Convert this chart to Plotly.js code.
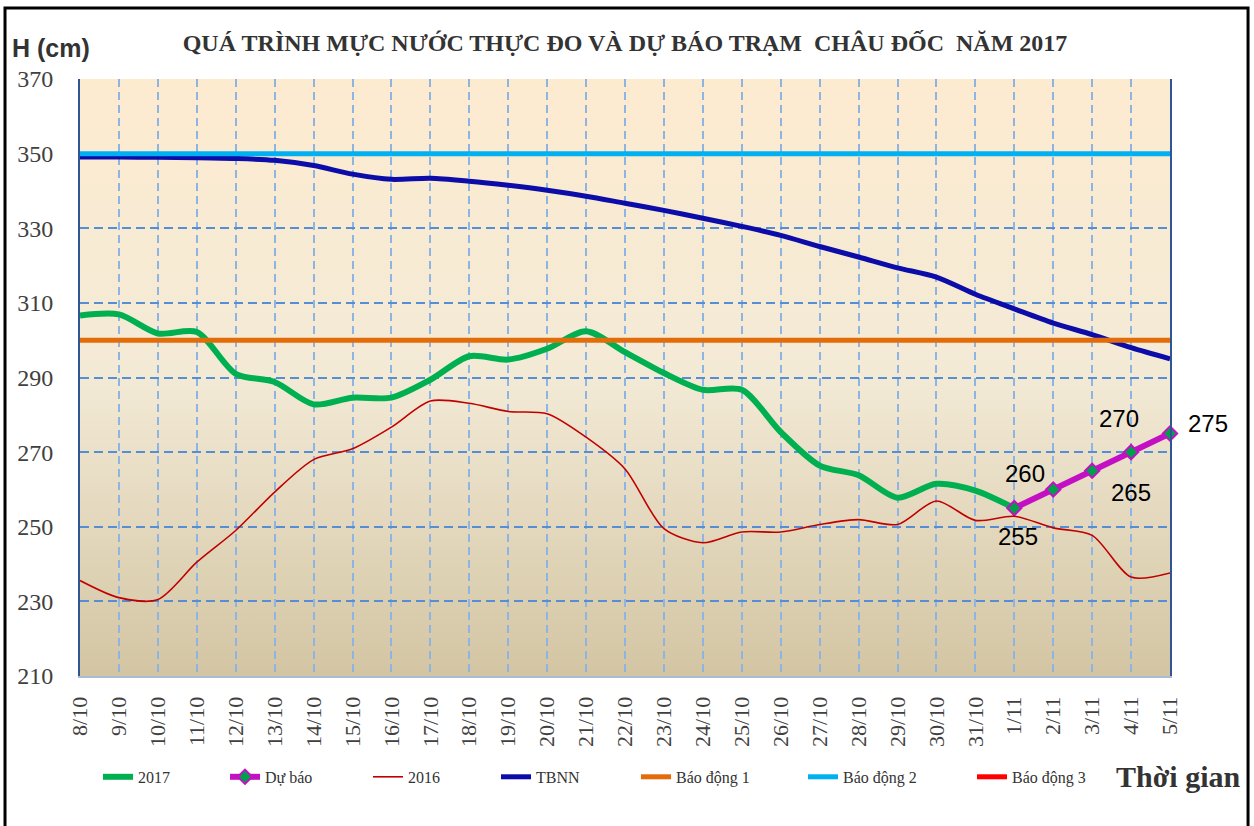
<!DOCTYPE html>
<html>
<head>
<meta charset="utf-8">
<script src="https://cdn.plot.ly/plotly-3.0.1.min.js"></script>
<style>
  body { margin: 0; background: #fff; }
  #chart { width: 1254px; height: 826px; }
</style>
</head>
<body>
<div id="chart"></div>
<script>
// ngày quan trắc
const dates = ['8/10','9/10','10/10','11/10','12/10','13/10','14/10','15/10','16/10','17/10',
  '18/10','19/10','20/10','21/10','22/10','23/10','24/10','25/10','26/10','27/10',
  '28/10','29/10','30/10','31/10','1/11','2/11','3/11','4/11','5/11']

// mực nước thực đo 2017 (đến 1/11)
const h2017 = [306.6, 306.9, 301.8, 302.2, 291.0, 288.8, 282.8, 284.6, 284.6, 289.4,
  295.7, 294.8, 297.7, 302.4, 296.8, 291.2, 286.7, 286.7, 275.4, 266.4,
  263.8, 257.8, 261.5, 259.7, 255]

// dự báo
const forecastDates = ['1/11','2/11','3/11','4/11','5/11']
const forecast = [255, 260, 265, 270, 275]

// cùng kỳ 2016
const h2016 = [235.6, 231.0, 230.5, 240.5, 249.0, 259.3, 268.0, 270.9, 276.7, 283.7,
  283.1, 280.9, 280.3, 274.0, 265.5, 249.5, 245.7, 248.6, 248.6, 250.6,
  251.9, 250.6, 256.9, 251.7, 252.8, 249.7, 247.7, 236.5, 237.6]

// trung bình nhiều năm
const tbnn = [349.1, 349.1, 349.0, 348.9, 348.7, 348.2, 346.8, 344.5, 343.1, 343.4,
  342.6, 341.5, 340.2, 338.6, 336.7, 334.8, 332.7, 330.5, 328.1, 325.1,
  322.3, 319.4, 316.9, 312.3, 308.4, 304.6, 301.5, 298.0, 295.0]

// báo động 1, 2, 3
const alarmNames = ['Báo động 1', 'Báo động 2', 'Báo động 3']
const alarmLevels = [300, 350, 400]
const alarmColors = ['#e36c0a', '#00b0f0', '#ff0000']

const yTicks = [210, 230, 250, 270, 290, 310, 330, 350, 370]

// label offsets for the forecast values
const labelShiftX = [4, -28, 39, -12, 38]
const labelShiftY = [-28, 16, -22, 34, 10]

const serif = 'Liberation Serif, Times New Roman, serif'
const sans = 'Liberation Sans, Arial, sans-serif'
const legendFont = {family: serif, size: 16, color: '#333'}

const traces = [
  {
    x: dates.slice(0, h2017.length), y: h2017, name: '2017', type: 'scatter', mode: 'lines',
    line: {color: '#00b050', width: 6, shape: 'spline', smoothing: 0.8},
    legendwidth: 82
  },
  {
    x: forecastDates, y: forecast, name: 'Dự báo', type: 'scatter', mode: 'lines+markers',
    line: {color: '#c410c4', width: 6},
    marker: {symbol: 'diamond', size: 11, color: '#00a04a', line: {color: '#c410c4', width: 2}},
    cliponaxis: false,
    legendwidth: 98
  },
  {
    x: dates, y: h2016, name: '2016', type: 'scatter', mode: 'lines',
    line: {color: '#c00000', width: 1.6, shape: 'spline', smoothing: 0.8},
    legendwidth: 83
  },
  {
    x: dates, y: tbnn, name: 'TBNN', type: 'scatter', mode: 'lines',
    line: {color: '#0c0ca8', width: 5, shape: 'spline', smoothing: 0.8},
    legendwidth: 95
  }
]

const alarmLegendWidth = [122, 124, 100]
alarmNames.forEach((name, i) => {
  traces.push({
    x: [dates[0], dates[dates.length - 1]], y: [alarmLevels[i], alarmLevels[i]],
    name: name, type: 'scatter', mode: 'lines',
    line: {color: alarmColors[i], width: 5},
    legendwidth: alarmLegendWidth[i]
  })
})

const annotations = forecast.map((v, i) => ({
  x: forecastDates[i], y: v, text: String(v), showarrow: false,
  xshift: labelShiftX[i], yshift: labelShiftY[i],
  font: {family: sans, size: 24, color: '#000'}
}))

annotations.push({
  xref: 'paper', yref: 'paper', x: -0.064, y: 1.052, xanchor: 'left', yanchor: 'middle',
  text: 'H (cm)', showarrow: false,
  font: {family: sans, size: 25, color: '#333', weight: 'bold'}
})
annotations.push({
  xref: 'paper', yref: 'paper', x: 1.066, y: -0.169, xanchor: 'right', yanchor: 'middle',
  text: 'Thời gian', showarrow: false,
  font: {family: serif, size: 30, color: '#333', weight: 'bold'}
})

const gradient = '<svg xmlns="http://www.w3.org/2000/svg" width="100" height="100" preserveAspectRatio="none">' +
  '<defs><linearGradient id="g" x1="0" y1="0" x2="0" y2="1">' +
  '<stop offset="0" stop-color="#fdebd0"/><stop offset="0.5" stop-color="#f3ead6"/>' +
  '<stop offset="1" stop-color="#d3c5a3"/></linearGradient></defs>' +
  '<rect width="100" height="100" fill="url(#g)"/></svg>'

const layout = {
  width: 1254, height: 826,
  margin: {l: 80, r: 84, t: 79, b: 150},
  paper_bgcolor: '#ffffff',
  plot_bgcolor: 'rgba(0,0,0,0)',
  title: {
    text: 'QUÁ TRÌNH MỰC NƯỚC THỰC ĐO VÀ DỰ BÁO TRẠM  CHÂU ĐỐC  NĂM 2017',
    font: {family: serif, size: 24, color: '#333', weight: 'bold'},
    x: 0.5, xref: 'paper', xanchor: 'center',
    y: 0.948, yref: 'container', yanchor: 'middle'
  },
  xaxis: {
    type: 'category', categoryarray: dates, range: [0, dates.length - 1],
    tickangle: -90, ticklabelstandoff: 10,
    tickfont: {family: serif, size: 22, color: '#404040'},
    showgrid: true, gridcolor: '#8db4e2', gridwidth: 2, griddash: '8px,5px',
    showline: true, linecolor: '#a9bcd4', linewidth: 2,
    ticks: '', zeroline: false, fixedrange: true
  },
  yaxis: {
    range: [210, 370], tickvals: yTicks, ticklabelstandoff: 20,
    tickfont: {family: serif, size: 24, color: '#404040'},
    showgrid: true, gridcolor: '#558ed5', gridwidth: 2, griddash: '9px,5px',
    showline: true, linecolor: '#2f5597', linewidth: 2, mirror: true,
    ticks: '', zeroline: false, fixedrange: true
  },
  legend: {
    orientation: 'h', x: 0.0165, xanchor: 'left', y: -0.169, yanchor: 'middle',
    font: legendFont, bgcolor: 'rgba(0,0,0,0)', traceorder: 'normal'
  },
  images: [{
    source: 'data:image/svg+xml;charset=utf-8,' + encodeURIComponent(gradient),
    xref: 'paper', yref: 'paper', x: 0, y: 1, sizex: 1, sizey: 1,
    sizing: 'stretch', layer: 'below'
  }],
  shapes: [{
    type: 'rect', xref: 'paper', yref: 'paper',
    x0: -0.0688, x1: 1.0716, y0: -0.26, y1: 1.119,
    line: {color: '#000', width: 3}, fillcolor: 'rgba(0,0,0,0)'
  }],
  annotations: annotations,
  showlegend: true
}

Plotly.newPlot('chart', traces, layout, {displayModeBar: false, staticPlot: true})
</script>
</body>
</html>
